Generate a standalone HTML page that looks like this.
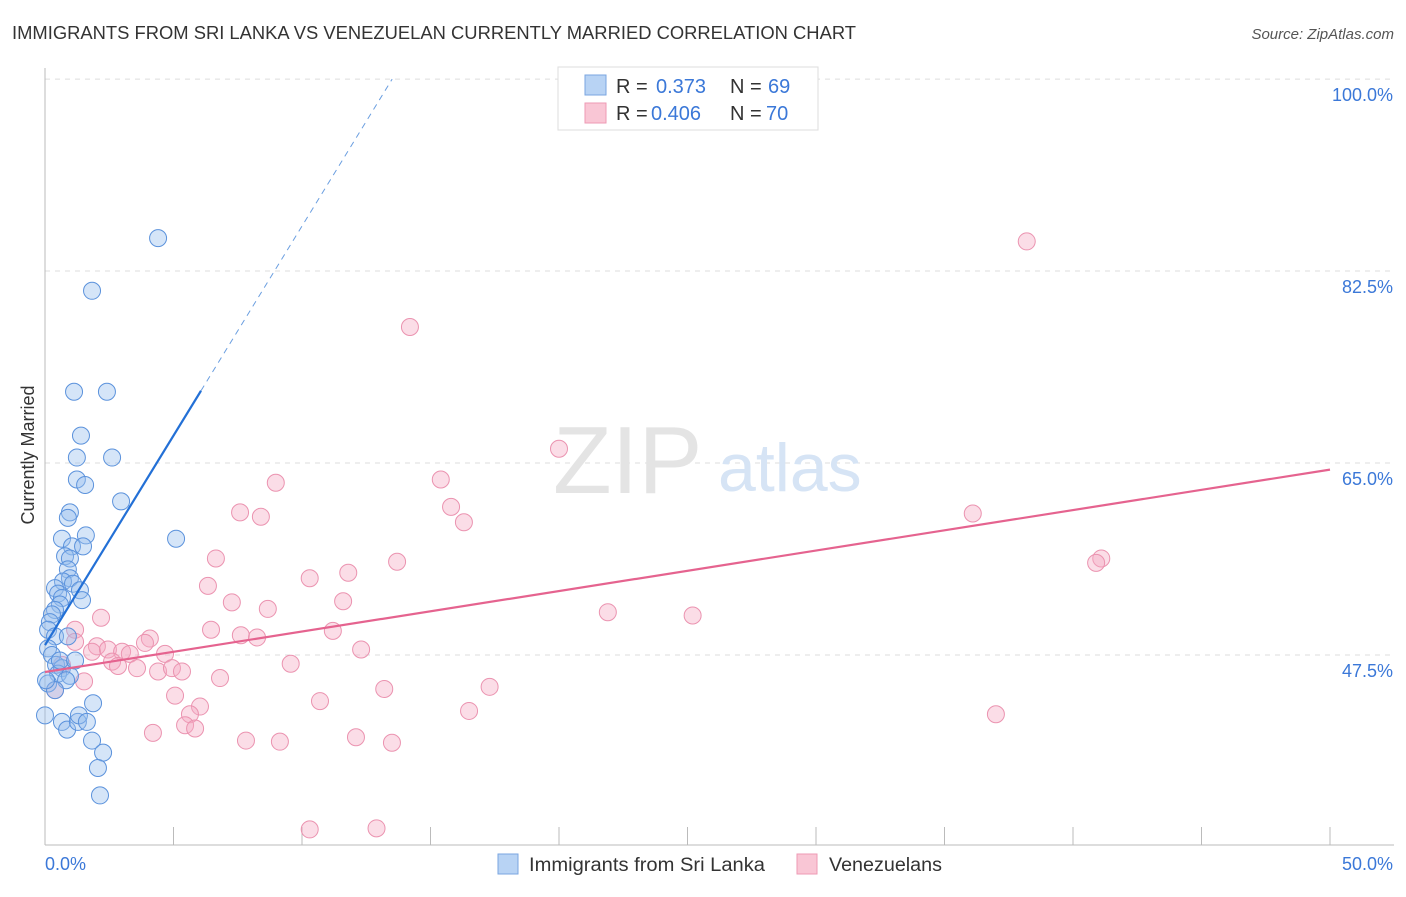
<!DOCTYPE html>
<html><head><meta charset="utf-8">
<style>
body{margin:0;background:#fff;font-family:"Liberation Sans",sans-serif;}
svg text{font-family:"Liberation Sans",sans-serif;}
</style></head>
<body>
<svg id="chart" width="1406" height="892" xmlns="http://www.w3.org/2000/svg">
<text x="12" y="39" font-size="18" fill="#333" textLength="844" lengthAdjust="spacingAndGlyphs">IMMIGRANTS FROM SRI LANKA VS VENEZUELAN CURRENTLY MARRIED CORRELATION CHART</text>
<text x="1394" y="39" font-size="15" fill="#555" font-style="italic" text-anchor="end">Source: ZipAtlas.com</text>
<text x="34" y="455" font-size="18" fill="#333" text-anchor="middle" transform="rotate(-90 34 455)">Currently Married</text>
<g id="grid"></g>
<text x="553" y="493" font-size="96" fill="#e4e4e4" font-family="Liberation Serif">ZIP</text>
<text x="718" y="491" font-size="68" fill="#d6e4f5">atlas</text>
<g id="pts"></g>
<g id="lines"></g>
<g>
<rect x="558" y="67" width="260" height="63" fill="#fff" stroke="#ddd"/>
<rect x="585" y="75" width="21" height="20" fill="#b8d3f4" stroke="#7aa6e0"/>
<rect x="585" y="103" width="21" height="20" fill="#f9c6d5" stroke="#ee9ab4"/>
<text x="616" y="93" font-size="20" fill="#333">R = <tspan x="656" fill="#3b78d8">0.373</tspan><tspan x="730" fill="#333">N = </tspan><tspan x="768" fill="#3b78d8">69</tspan></text>
<text x="616" y="120" font-size="20" fill="#333">R = <tspan x="651" fill="#3b78d8">0.406</tspan><tspan x="730" fill="#333">N = </tspan><tspan x="766" fill="#3b78d8">70</tspan></text>
</g>
<g>
<rect x="498" y="854" width="20" height="20" fill="#b8d3f4" stroke="#7aa6e0"/>
<text x="529" y="871" font-size="19" fill="#333" textLength="236" lengthAdjust="spacingAndGlyphs">Immigrants from Sri Lanka</text>
<rect x="797" y="854" width="20" height="20" fill="#f9c6d5" stroke="#ee9ab4"/>
<text x="829" y="871" font-size="19" fill="#333" textLength="113" lengthAdjust="spacingAndGlyphs">Venezuelans</text>
</g>
</svg>
<script>
const yTicks=[47.5,65,82.5,100];
const yTickLabels=["47.5%","65.0%","82.5%","100.0%"];
const xTicks=[0,5,10,15,20,25,30,35,40,45,50];
const xLabels=["0.0%","50.0%"];
const blueX=[4.40,1.83,1.13,2.41,1.40,1.24,2.61,1.24,1.56,2.96,0.97,0.89,5.10,0.66,1.59,1.05,1.48,0.78,0.97,0.89,0.97,0.70,1.09,0.39,1.36,0.51,0.66,1.44,0.58,0.39,0.27,0.19,0.12,0.39,0.89,0.12,0.27,0.43,0.66,0.51,0.97,0.82,0.12,0.39,0.0,1.87,0.66,0.86,1.28,1.32,1.63,1.83,2.26,2.06,2.14,0.04,0.58,1.17];
const blueY=[85.5,80.7,71.5,71.5,67.5,65.5,65.5,63.5,63.0,61.5,60.5,60.0,58.1,58.1,58.4,57.4,57.4,56.5,56.3,55.3,54.5,54.2,54.0,53.6,53.4,53.1,52.7,52.5,52.1,51.6,51.2,50.5,49.8,49.2,49.2,48.1,47.5,46.6,46.3,45.8,45.6,45.2,44.9,44.3,42.0,43.1,41.4,40.7,41.4,42.0,41.4,39.7,38.6,37.2,34.7,45.2,47.0,47.0];
const pinkX=[38.2,14.2,20.0,15.4,8.98,7.59,8.40,15.8,16.3,36.1,41.1,40.9,6.65,13.7,11.8,10.3,6.34,7.27,11.6,8.67,21.9,25.2,2.18,6.46,11.2,7.62,8.25,1.17,4.08,3.89,2.02,1.83,2.45,3.0,3.3,4.67,12.3,2.61,2.84,3.58,4.40,4.94,5.33,9.56,6.81,1.52,5.06,13.2,17.3,10.7,16.5,6.03,5.64,5.45,5.84,4.20,37.0,7.82,9.14,12.1,13.5,10.3,12.9,0.66,0.39,1.17];
const pinkY=[85.2,77.4,66.3,63.5,63.2,60.5,60.1,61.0,59.6,60.4,56.3,55.9,56.3,56.0,55.0,54.5,53.8,52.3,52.4,51.7,51.4,51.1,50.9,49.8,49.7,49.3,49.1,49.8,49.0,48.6,48.3,47.8,48.0,47.8,47.6,47.6,48.0,46.9,46.5,46.3,46.0,46.3,46.0,46.7,45.4,45.1,43.8,44.4,44.6,43.3,42.4,42.8,42.1,41.1,40.8,40.4,42.1,39.7,39.6,40.0,39.5,31.6,31.7,46.6,44.3,48.7];
const blueTrend=[48.4,3.82]; // intercept, slope
const pinkTrend=[45.95,0.369];
const X=v=>45+v*25.7;
const Y=v=>655-(v-47.5)*10.97;
const NS="http://www.w3.org/2000/svg";
function mk(t,a,p){const e=document.createElementNS(NS,t);for(const k in a)e.setAttribute(k,a[k]);p.appendChild(e);return e;}
const grid=document.getElementById('grid');
const svg=document.getElementById('chart');
yTicks.forEach((t,i)=>{
 const l=mk('line',{x1:45,x2:1394,y1:Y(t),y2:Y(t),stroke:'#ddd','stroke-dasharray':'5,5'},grid);
 
 
 const tx=mk('text',{x:1393,y:Y(t)+22,'font-size':18,fill:'#3b78d8','text-anchor':'end'},svg);
 tx.textContent=yTickLabels[i];
 
 
});
const ax=mk('line',{x1:45,x2:45,y1:68,y2:845,stroke:'#bbb'},grid);


const bx=mk('line',{x1:45,x2:1394,y1:845,y2:845,stroke:'#bbb'},grid);


xTicks.forEach(t=>{
 const l=mk('line',{x1:X(t),x2:X(t),y1:827,y2:845,stroke:'#bbb'},grid);
 
 
});
const xl0=mk('text',{x:45,y:870,'font-size':18,fill:'#3b78d8'},svg);xl0.textContent=xLabels[0];


const xl1=mk('text',{x:1393,y:870,'font-size':18,fill:'#3b78d8','text-anchor':'end'},svg);xl1.textContent=xLabels[1];


const pts=document.getElementById('pts');
pinkX.forEach((x,i)=>{
 const c=mk('circle',{cx:X(x),cy:Y(pinkY[i]),r:8.5,fill:'rgba(246,170,195,0.4)',stroke:'#eb93b0','stroke-width':1},pts);
 
 
});
blueX.forEach((x,i)=>{
 const c=mk('circle',{cx:X(x),cy:Y(blueY[i]),r:8.5,fill:'rgba(150,190,238,0.4)',stroke:'#5b92dc','stroke-width':1},pts);
 
 
});
const lines=document.getElementById('lines');
const bEnd=6.07, bTop=(100-blueTrend[0])/blueTrend[1];
const b1=mk('line',{x1:X(0),y1:Y(blueTrend[0]),x2:X(bEnd),y2:Y(blueTrend[0]+blueTrend[1]*bEnd),stroke:'#2370d6','stroke-width':2.2},lines);


const b2=mk('line',{x1:X(bEnd),y1:Y(blueTrend[0]+blueTrend[1]*bEnd),x2:X(bTop),y2:Y(100),stroke:'#6a9ee0','stroke-width':1,'stroke-dasharray':'6,5'},lines);


const p1=mk('line',{x1:X(0),y1:Y(pinkTrend[0]),x2:X(50),y2:Y(pinkTrend[0]+pinkTrend[1]*50),stroke:'#e5638f','stroke-width':2.2},lines);


</script>
</body></html>
